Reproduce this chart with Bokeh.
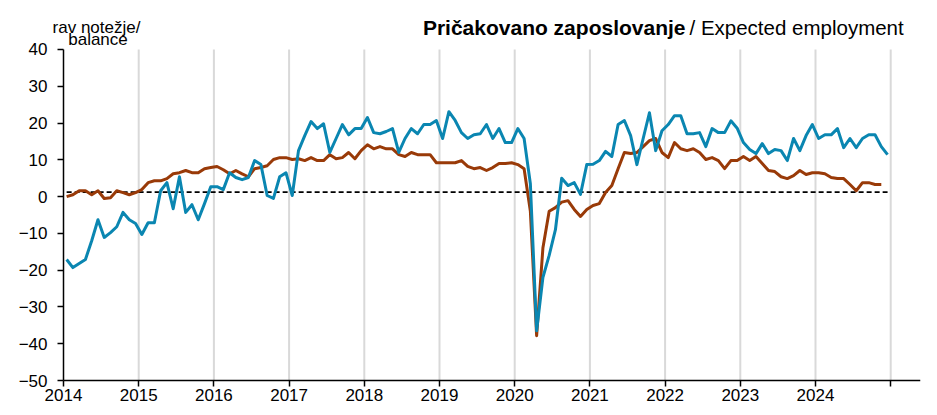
import math
from bokeh.plotting import figure
from bokeh.models import FixedTicker, Label, ColumnDataSource
from bokeh.embed import file_html
from bokeh.resources import INLINE

# ---- data (monthly, Jan 2014 - Dec 2024) ----
start_year = 2014
year_ticks = list(range(2014, 2026))
year_labels = [str(y) for y in range(2014, 2025)] + [""]
grid_years = list(range(2015, 2026))
y_ticks = list(range(-50, 41, 10))

blue_series = [
    -17.1, -19.3, -18.2, -17.1, -12.0, -6.3, -11.1, -9.8, -8.2, -4.3, -6.3, -7.3,
    -10.3, -7.1, -7.1, 1.6, 3.8, -3.3, 5.4, -4.3, -2.2, -6.3, -1.9, 2.7,
    2.7, 1.9, 6.5, 5.2, 4.6, 5.2, 9.8, 8.7, 0.3, -0.5, 5.4, 6.5,
    0.3, 12.5, 16.6, 20.4, 18.5, 19.8, 12.0, 15.8, 19.6, 16.8, 18.5, 18.5,
    21.5, 17.4, 17.1, 17.7, 18.5, 12.0, 15.8, 18.5, 17.1, 19.6, 19.6, 20.7,
    15.8, 23.1, 20.7, 17.4, 15.8, 16.8, 17.1, 19.6, 15.8, 18.5, 14.7, 14.7,
    18.5, 15.8, 3.5, -36.5, -22.0, -16.0, -9.0, 5.0, 3.0, 3.8, 0.6, 8.7,
    8.8, 9.8, 12.3, 10.9, 19.6, 20.7, 16.6, 8.7, 15.8, 22.8, 12.5, 17.9,
    19.6, 22.0, 22.0, 17.1, 17.1, 17.4, 13.6, 18.5, 17.4, 17.4, 20.6, 18.6,
    14.7, 12.8, 11.7, 14.4, 11.7, 12.8, 12.5, 9.8, 15.8, 12.5, 16.6, 19.6,
    15.8, 16.8, 16.8, 18.5, 13.3, 15.8, 13.3, 15.8, 16.8, 16.8, 13.6, 11.4,
]

brown_series = [
    0.0, 0.5, 1.6, 1.6, 0.5, 1.6, -0.5, -0.3, 1.6, 1.1, 0.5, 1.1,
    1.9, 3.8, 4.3, 4.3, 4.9, 6.2, 6.5, 7.1, 6.5, 6.5, 7.6, 7.9,
    8.2, 7.3, 6.2, 7.1, 6.2, 5.4, 7.6, 7.9, 8.4, 10.1, 10.6, 10.6,
    10.1, 10.3, 9.8, 10.6, 9.8, 9.8, 11.4, 10.3, 10.6, 12.0, 10.3, 12.5,
    14.1, 13.0, 13.6, 13.0, 13.0, 11.4, 10.9, 12.0, 11.4, 11.4, 11.4, 9.2,
    9.2, 9.2, 9.2, 9.8, 8.2, 7.6, 7.9, 7.1, 7.9, 9.0, 9.0, 9.2,
    8.7, 7.6, -4.0, -37.8, -14.0, -4.0, -3.0, -1.5, -1.1, -3.5, -5.4, -3.5,
    -2.4, -1.9, 1.1, 3.0, 7.6, 12.0, 11.7, 12.0, 13.6, 15.2, 15.8, 12.0,
    10.6, 14.7, 13.0, 12.5, 13.0, 12.0, 10.1, 10.6, 9.8, 7.6, 9.8, 9.8,
    10.9, 9.8, 10.9, 9.0, 7.1, 6.8, 5.4, 4.9, 5.7, 7.1, 6.0, 6.5,
    6.5, 6.2, 5.2, 4.9, 4.9, 3.3, 1.6, 3.8, 3.8, 3.3, 3.3, float("nan"),
]

reference_level = 1.2

# ---- derived ----
n = len(blue_series)
months = [start_year + (i + 0.5) / 12 for i in range(n)]
src = ColumnDataSource(dict(
    x=months,
    blue=blue_series,
    brown=brown_series,
    ref=[reference_level] * n,
))
grid_src = ColumnDataSource(dict(
    x=grid_years,
    y0=[y_ticks[0]] * len(grid_years),
    y1=[y_ticks[-1]] * len(grid_years),
))

FONT = "Liberation Sans"
BLUE = "#0a86b1"
BROWN = "#993a08"

PX_PER_YEAR = 75.2
PX_PER_UNIT = 3.678
BORDER_LEFT = 15
X0 = 2014 - (64 - (BORDER_LEFT + 1)) / PX_PER_YEAR
X1 = X0 + (922 - BORDER_LEFT - 2) / PX_PER_YEAR
Y_TOP = 40 + (50 - 12) / PX_PER_UNIT
Y_BOT = -50 - (409 - 381) / PX_PER_UNIT

p = figure(
    width=922, height=410,
    x_range=(X0, X1), y_range=(Y_BOT, Y_TOP),
    output_backend="svg", toolbar_location=None,
    min_border_left=BORDER_LEFT, min_border_right=2,
    min_border_top=11, min_border_bottom=2,
)
p.outline_line_color = None
p.background_fill_color = "white"
p.border_fill_color = "white"

# grid (drawn as segments so they stop at the top tick)
p.xgrid.visible = False
p.ygrid.visible = False
p.segment(x0="x", y0="y0", x1="x", y1="y1", source=grid_src,
          line_color="#d9d9d9", line_width=2)

# x axis
p.xaxis.ticker = FixedTicker(ticks=year_ticks)
p.xaxis.fixed_location = y_ticks[0]
p.xaxis.bounds = (2014, X1)
p.xaxis.major_label_overrides = {t: lab for t, lab in zip(year_ticks, year_labels)}
p.xaxis.minor_tick_line_color = None
p.xaxis.major_tick_out = 6
p.xaxis.major_tick_in = 0
p.xaxis.axis_line_color = "black"
p.xaxis.axis_line_width = 1.5
p.xaxis.major_tick_line_color = "black"
p.xaxis.major_tick_line_width = 1.5
p.xaxis.major_label_text_font = FONT
p.xaxis.major_label_text_font_size = "17px"
p.xaxis.major_label_text_color = "black"
p.xaxis.major_label_standoff = 2

# y axis
p.yaxis.ticker = FixedTicker(ticks=y_ticks)
p.yaxis.fixed_location = 2014
p.yaxis.bounds = (y_ticks[0], y_ticks[-1])
p.yaxis.minor_tick_line_color = None
p.yaxis.major_tick_out = 6
p.yaxis.major_tick_in = 0
p.yaxis.axis_line_color = "black"
p.yaxis.axis_line_width = 1.5
p.yaxis.major_tick_line_color = "black"
p.yaxis.major_tick_line_width = 1.5
p.yaxis.major_label_text_font = FONT
p.yaxis.major_label_text_font_size = "17px"
p.yaxis.major_label_text_color = "black"
p.yaxis.major_label_standoff = 10

# lines
p.line("x", "ref", source=src, line_color="black", line_width=1.8, line_dash="5 3")
p.line("x", "brown", source=src, line_color=BROWN, line_width=3, line_join="round")
p.line("x", "blue", source=src, line_color=BLUE, line_width=3, line_join="round")

# texts
def yr(px):
    return 2014 + (px - 64) / PX_PER_YEAR

def val(py):
    return 40 - (py - 50) / PX_PER_UNIT

p.add_layout(Label(x=yr(97), y=val(28), text="rav notežje/", text_align="center",
                   text_baseline="alphabetic", text_font=FONT, text_font_size="17px",
                   text_color="black"))
p.add_layout(Label(x=yr(98.5), y=val(40), text="balance", text_align="center",
                   text_baseline="alphabetic", text_font=FONT, text_font_size="17px",
                   text_color="black"))
p.add_layout(Label(x=yr(686), y=val(28), text="Pričakovano zaposlovanje", text_align="right",
                   text_baseline="alphabetic", text_font=FONT, text_font_size="21px",
                   text_font_style="bold", text_color="black"))
p.add_layout(Label(x=yr(690), y=val(28), text="/ Expected employment", text_align="left",
                   text_baseline="alphabetic", text_font=FONT, text_font_size="20.5px",
                   text_color="black"))

open("out.html", "w").write(file_html(p, INLINE))
